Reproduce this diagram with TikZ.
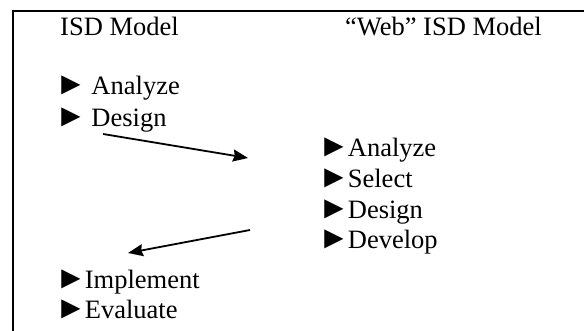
\documentclass[tikz,border=0pt]{standalone}
\usepackage{fontspec}
\setmainfont{Liberation Serif}
\usepackage{tikz}
\usetikzlibrary{arrows.meta}
\tikzset{
  frm/.style={line width=2pt},
  itm/.style={anchor=base west, inner sep=0pt, font=\fontsize{26.5}{31}\selectfont},
  flw/.style={-{Stealth[length=15pt, width=12pt, inset=1.5pt]}, line width=1.8pt},
}
\newcommand{\ptr}{{\fontsize{32}{31}\selectfont\kern-5pt ►\kern-2pt}}

\begin{document}
\begin{tikzpicture}[x=1pt, y=-1pt]
\useasboundingbox (0,0) rectangle (584,331);
\draw[frm] (584,11) -- (13,11) -- (13,331);
% headings
\node[itm] (isdhead) at (60,36) {ISD Model};
\node[itm] (webhead) at (345,36) {“Web” ISD Model};
% classic model, first half
\node[itm] (isdanalyze) at (60,95) {\ptr\ Analyze};
\node[itm] (isddesign) at (60,127) {\ptr\ Design};
% web model
\node[itm] (webanalyze) at (323,157) {\ptr Analyze};
\node[itm] (webselect) at (323,188) {\ptr Select};
\node[itm] (webdesign) at (323,219) {\ptr Design};
\node[itm] (webdevelop) at (323,249) {\ptr Develop};
% classic model, second half
\node[itm] (isdimplement) at (60,288) {\ptr Implement};
\node[itm] (isdevaluate) at (60,318) {\ptr Evaluate};
% hand-over arrows
\coordinate (outA) at (103,134);
\coordinate (inA) at (248,158);
\coordinate (outB) at (250,230);
\coordinate (inB) at (128,253);
\draw[flw] (outA) -- (inA);
\draw[flw] (outB) -- (inB);
\end{tikzpicture}
\end{document}
